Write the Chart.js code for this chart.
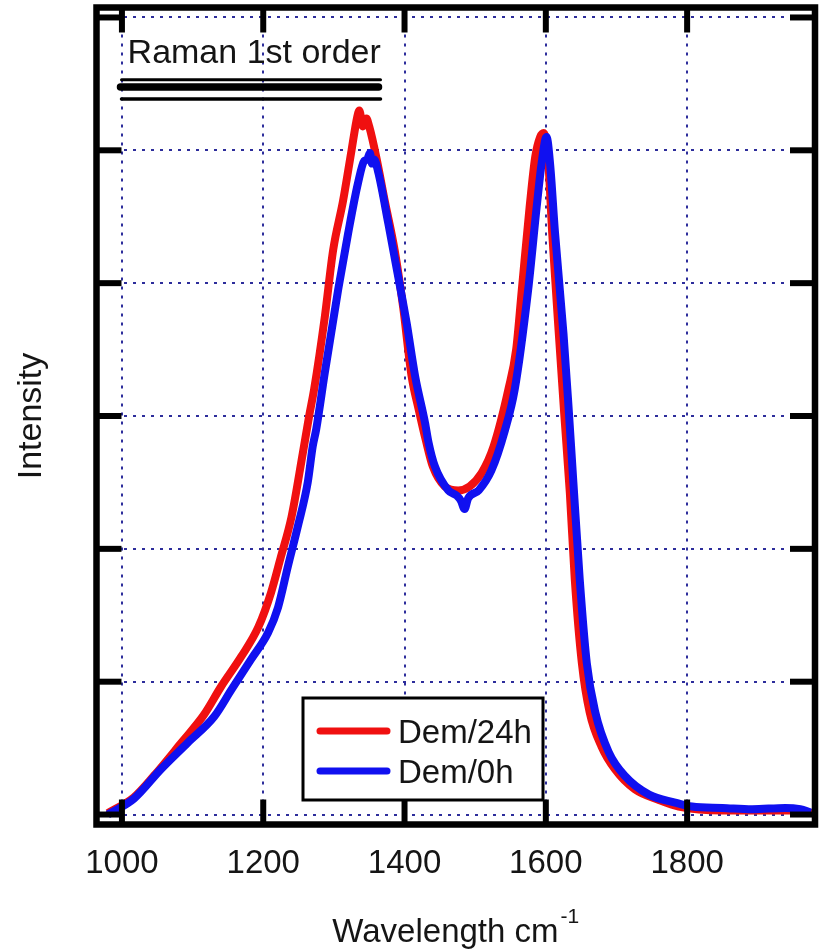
<!DOCTYPE html>
<html>
<head>
<meta charset="utf-8">
<script src="https://cdn.jsdelivr.net/npm/chart.js@4.4.1/dist/chart.umd.min.js"></script>
<style>
  html, body { margin: 0; padding: 0; background: #ffffff; }
  #wrap { width: 821px; height: 950px; }
</style>
</head>
<body>
<div id="wrap"><canvas id="c" width="821" height="950"></canvas></div>
<script>
// ---- data ----
const seriesNames = ['Dem/24h', 'Dem/0h'];
const seriesColors = ['#f01010', '#1010f0'];

const redX = [980, 1017, 1045, 1084, 1116, 1140, 1169, 1193, 1211, 1225, 1240, 1256, 1265, 1272, 1287, 1299, 1313, 1325, 1333, 1336, 1341, 1346, 1350, 1360, 1372, 1386, 1398, 1410, 1420, 1430, 1440, 1457, 1476, 1492, 1509, 1526, 1547, 1558, 1566, 1577, 1585, 1592, 1597, 1603, 1609, 1618, 1626, 1634, 1641, 1651, 1662, 1679, 1698, 1726, 1760, 1788, 1850, 1900, 1950, 1978];
const redY = [0.01, 0.13, 0.29, 0.54, 0.75, 0.96, 1.19, 1.41, 1.67, 1.94, 2.24, 2.72, 3.00, 3.20, 3.74, 4.25, 4.62, 5.00, 5.25, 5.30, 5.18, 5.24, 5.18, 4.95, 4.62, 4.25, 3.82, 3.30, 3.05, 2.82, 2.62, 2.47, 2.44, 2.47, 2.57, 2.77, 3.20, 3.50, 3.95, 4.57, 4.95, 5.10, 5.13, 4.95, 4.38, 3.65, 3.02, 2.42, 1.77, 1.14, 0.77, 0.51, 0.34, 0.19, 0.11, 0.06, 0.03, 0.03, 0.03, 0.01];

const blueX = [980, 1017, 1055, 1093, 1131, 1155, 1183, 1207, 1221, 1235, 1249, 1263, 1270, 1275, 1287, 1306, 1320, 1334, 1343, 1347, 1351, 1354, 1357, 1363, 1377, 1391, 1403, 1415, 1429, 1434, 1443, 1462, 1474, 1480, 1485, 1490, 1505, 1523, 1542, 1556, 1575, 1587, 1594, 1601, 1606, 1613, 1625, 1632, 1639, 1648, 1658, 1670, 1689, 1712, 1746, 1783, 1807, 1850, 1892, 1939, 1960, 1975];
const blueY = [0.00, 0.12, 0.34, 0.54, 0.74, 0.94, 1.17, 1.37, 1.56, 1.87, 2.17, 2.50, 2.77, 2.90, 3.32, 3.95, 4.37, 4.75, 4.92, 4.93, 4.98, 4.90, 4.93, 4.83, 4.45, 4.05, 3.70, 3.30, 2.95, 2.80, 2.62, 2.44, 2.40, 2.36, 2.30, 2.38, 2.44, 2.59, 2.89, 3.20, 3.95, 4.57, 4.90, 5.10, 4.90, 4.38, 3.62, 3.08, 2.50, 1.77, 1.14, 0.77, 0.47, 0.29, 0.15, 0.09, 0.06, 0.05, 0.04, 0.05, 0.04, 0.015];

const xTickValues = [1000, 1200, 1400, 1600, 1800];
const yTickValues = [0, 1, 2, 3, 4, 5, 6];
const xTitleText = 'Wavelength cm';
const xTitleSup = '-1';
const yTitleText = 'Intensity';
const annotationText = 'Raman 1st order';

const FONT = "'Liberation Sans', Arial, Helvetica, sans-serif";

function toPoints(xs, ys) { return xs.map((v, i) => ({ x: v, y: ys[i] })); }

const decor = {
  id: 'decor',
  afterDraw(chart) {
    const { ctx, chartArea, scales } = chart;
    const { left, top, right, bottom } = chartArea;
    const xs = scales.x, ys = scales.y;
    const line = (x1, y1, x2, y2) => { ctx.beginPath(); ctx.moveTo(x1, y1); ctx.lineTo(x2, y2); ctx.stroke(); };
    ctx.save();
    // inward tick marks on all four sides
    ctx.strokeStyle = '#000';
    ctx.lineWidth = 6;
    ctx.lineCap = 'butt';
    xTickValues.forEach(v => {
      const px = xs.getPixelForValue(v);
      line(px, top, px, top + 25);
      line(px, bottom, px, bottom - 25);
    });
    yTickValues.forEach(v => {
      const py = ys.getPixelForValue(v);
      line(left, py, left + 25, py);
      line(right, py, right - 25, py);
    });
    // frame
    ctx.lineWidth = 6.5;
    ctx.strokeRect(left, top, right - left, bottom - top);

    // annotation "Raman 1st order" with three bars
    const ax1 = xs.getPixelForValue(998), ax2 = xs.getPixelForValue(1366);
    ctx.fillStyle = '#151515';
    ctx.font = '34px ' + FONT;
    ctx.textBaseline = 'alphabetic';
    ctx.textAlign = 'left';
    ctx.fillText(annotationText, xs.getPixelForValue(1008), ys.getPixelForValue(5.654));
    ctx.strokeStyle = '#000';
    ctx.lineWidth = 3;
    ctx.lineCap = 'round';
    line(ax1 + 1, ys.getPixelForValue(5.532), ax2, ys.getPixelForValue(5.532));
    ctx.lineWidth = 7.5;
    line(ax1, ys.getPixelForValue(5.476), ax2 - 2, ys.getPixelForValue(5.476));
    ctx.lineWidth = 3.5;
    line(ax1 + 1, ys.getPixelForValue(5.386), ax2, ys.getPixelForValue(5.386));

    // legend box
    const lx = 303, ly = 698, lw = 240, lh = 102;
    ctx.fillStyle = '#fff';
    ctx.fillRect(lx, ly, lw, lh);
    ctx.lineWidth = 3;
    ctx.lineCap = 'butt';
    ctx.strokeStyle = '#000';
    ctx.strokeRect(lx, ly, lw, lh);
    ctx.font = '33px ' + FONT;
    chart.data.datasets.forEach((ds, i) => {
      const yy = ly + 33 + i * 40;
      ctx.strokeStyle = ds.borderColor;
      ctx.lineWidth = 7;
      ctx.lineCap = 'round';
      line(lx + 17, yy, lx + 84, yy);
      ctx.fillStyle = '#151515';
      ctx.fillText(ds.label, lx + 95, yy + 11.5);
    });

    // x axis title with superscript
    const cx = (left + right) / 2;
    ctx.font = '33px ' + FONT;
    const w1 = ctx.measureText(xTitleText).width;
    ctx.font = '21px ' + FONT;
    const w2 = ctx.measureText(xTitleSup).width;
    const sx = cx - (w1 + 2 + w2) / 2;
    ctx.fillStyle = '#151515';
    ctx.font = '33px ' + FONT;
    ctx.fillText(xTitleText, sx, 942);
    ctx.font = '21px ' + FONT;
    ctx.fillText(xTitleSup, sx + w1 + 2, 923);
    ctx.restore();
  }
};

const gridColor = 'rgba(45,45,155,1)';

new Chart(document.getElementById('c'), {
  type: 'line',
  data: {
    datasets: [
      { label: seriesNames[0], data: toPoints(redX, redY), borderColor: seriesColors[0], backgroundColor: seriesColors[0],
        borderWidth: 8, pointRadius: 0, cubicInterpolationMode: 'monotone', order: 1, fill: false },
      { label: seriesNames[1], data: toPoints(blueX, blueY), borderColor: seriesColors[1], backgroundColor: seriesColors[1],
        borderWidth: 8, pointRadius: 0, cubicInterpolationMode: 'monotone', order: 0, fill: false }
    ]
  },
  options: {
    responsive: false,
    devicePixelRatio: 1,
    animation: false,
    layout: { padding: { left: 0, right: 6, top: 7.5, bottom: 0 } },
    plugins: { legend: { display: false }, tooltip: { enabled: false }, title: { display: false } },
    scales: {
      x: {
        type: 'linear',
        min: 964, max: 1981,
        afterBuildTicks: s => { s.ticks = xTickValues.map(v => ({ value: v })); },
        afterFit: s => { s.height = 125.5; },
        grid: { color: gridColor, lineWidth: 2, drawTicks: false },
        border: { display: false, dash: [3, 6] },
        ticks: { autoSkip: false, maxRotation: 0, padding: 20, color: '#151515', font: { size: 33, family: FONT },
                 callback: v => String(v) },
        title: { display: false }
      },
      y: {
        type: 'linear',
        min: -0.075, max: 6.075,
        afterBuildTicks: s => { s.ticks = yTickValues.map(v => ({ value: v })); },
        afterFit: s => { s.width = 96.5; },
        grid: { color: gridColor, lineWidth: 2, drawTicks: false },
        border: { display: false, dash: [3, 6] },
        ticks: { display: false },
        title: { display: true, text: yTitleText, color: '#151515', font: { size: 34, family: FONT }, padding: { top: 11, bottom: 0 } }
      }
    }
  },
  plugins: [decor]
});
</script>
</body>
</html>
